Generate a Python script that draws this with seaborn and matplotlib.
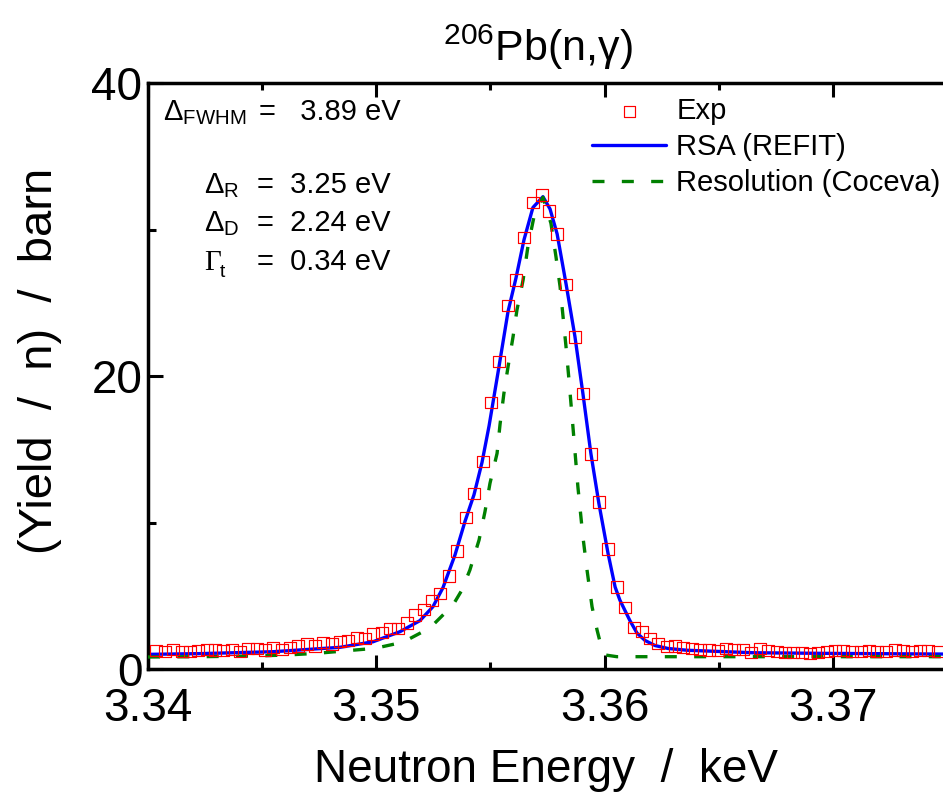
import matplotlib
matplotlib.use("Agg")
import matplotlib.pyplot as plt
import seaborn as sns
from matplotlib.ticker import MultipleLocator

# measured capture yield of 206Pb around the 3.357 keV resonance
exp_energy = [
    3.34035, 3.34074, 3.34110, 3.34149, 3.34184, 3.34219, 3.34258, 3.34293,
    3.34329, 3.34368, 3.34403, 3.34438, 3.34477, 3.34512, 3.34548, 3.34587,
    3.34622, 3.34657, 3.34696, 3.34731, 3.34767, 3.34806, 3.34841, 3.34876,
    3.34915, 3.34950, 3.34986, 3.35025, 3.35060, 3.35095, 3.35134, 3.35170,
    3.35209, 3.35244, 3.35279, 3.35318, 3.35353, 3.35393, 3.35428, 3.35467,
    3.35502, 3.35537, 3.35577, 3.35612, 3.35647, 3.35686, 3.35726, 3.35756,
    3.35792, 3.35831, 3.35870, 3.35905, 3.35940, 3.35975, 3.36015, 3.36054,
    3.36089, 3.36129, 3.36164, 3.36199, 3.36234, 3.36273, 3.36308, 3.36343,
    3.36383, 3.36418, 3.36457, 3.36497, 3.36532, 3.36567, 3.36606, 3.36641,
    3.36681, 3.36716, 3.36755, 3.36790, 3.36825, 3.36865, 3.36900, 3.36935,
    3.36974, 3.37009, 3.37044, 3.37084, 3.37123, 3.37158, 3.37193, 3.37233,
    3.37272, 3.37307, 3.37346, 3.37381, 3.37417, 3.37460,
]
exp_yield = [
    1.25, 1.18, 1.34, 1.18, 1.18, 1.25, 1.34, 1.30,
    1.25, 1.34, 1.18, 1.41, 1.41, 1.30, 1.48, 1.34,
    1.48, 1.57, 1.71, 1.57, 1.80, 1.71, 1.87, 1.93,
    2.16, 2.09, 2.39, 2.48, 2.78, 2.78, 3.14, 3.69,
    4.05, 4.68, 5.17, 6.35, 8.05, 10.33, 11.99, 14.15,
    18.20, 20.98, 24.80, 26.55, 29.47, 31.83, 32.35, 31.26,
    29.69, 26.26, 22.66, 18.79, 14.68, 11.40, 8.19, 5.60,
    4.21, 2.85, 2.54, 2.07, 1.75, 1.52, 1.57, 1.48,
    1.41, 1.34, 1.30, 1.25, 1.41, 1.34, 1.34, 1.13,
    1.41, 1.25, 1.18, 1.11, 1.11, 1.11, 1.07, 1.11,
    1.18, 1.25, 1.25, 1.18, 1.18, 1.25, 1.18, 1.18,
    1.30, 1.25, 1.18, 1.25, 1.25, 1.18,
]

# REFIT resonance shape analysis
rsa_energy = [
    3.34000, 3.34228, 3.34548, 3.34841, 3.34986, 3.35104, 3.35191, 3.35248,
    3.35292, 3.35345, 3.35389, 3.35428, 3.35463, 3.35494, 3.35537, 3.35577,
    3.35612, 3.35647, 3.35686, 3.35730, 3.35761, 3.35792, 3.35831, 3.35870,
    3.35905, 3.35940, 3.35975, 3.36015, 3.36046, 3.36067, 3.36111, 3.36142,
    3.36177, 3.36221, 3.36278, 3.36361, 3.36650, 3.36943, 3.37482,
]
rsa_yield = [
    1.00, 1.05, 1.18, 1.48, 1.86, 2.55, 3.30, 4.25,
    5.55, 7.80, 10.10, 11.90, 14.10, 16.60, 20.60, 24.40,
    26.70, 29.30, 31.50, 32.24, 31.40, 29.70, 26.30, 22.70,
    18.80, 14.70, 11.30, 7.90, 5.60, 4.70, 3.30, 2.45,
    1.95, 1.60, 1.40, 1.28, 1.11, 1.07, 1.02,
]

# resolution function (Coceva)
res_energy = [
    3.34000, 3.34228, 3.34482, 3.34613, 3.34740, 3.34872, 3.34994, 3.35117,
    3.35235, 3.35336, 3.35375, 3.35410, 3.35450, 3.35476, 3.35498, 3.35529,
    3.35542, 3.35559, 3.35577, 3.35599, 3.35616, 3.35643, 3.35664, 3.35691,
    3.35730, 3.35765, 3.35787, 3.35805, 3.35818, 3.35831, 3.35844, 3.35862,
    3.35883, 3.35905, 3.35923, 3.35945, 3.35967, 3.35980, 3.36006, 3.36054,
    3.37482,
]
res_yield = [
    0.82, 0.84, 0.89, 0.96, 1.07, 1.25, 1.41, 1.83,
    2.80, 4.37, 5.39, 6.76, 8.80, 10.74, 12.68, 14.72,
    16.70, 18.82, 20.63, 22.68, 24.50, 26.55, 28.83, 30.90,
    32.20, 30.42, 28.14, 26.10, 24.05, 22.00, 19.73, 16.40,
    12.44, 9.03, 6.76, 4.25, 2.66, 1.86, 0.95, 0.84,
    0.84,
]

sns.set_style("ticks")
plt.rcParams["font.family"] = ["Liberation Sans", "DejaVu Sans"]
plt.rcParams["text.color"] = "black"
plt.rcParams["axes.labelcolor"] = "black"
plt.rcParams["mathtext.fontset"] = "custom"
plt.rcParams["mathtext.rm"] = "Liberation Sans"
plt.rcParams["mathtext.it"] = "Liberation Sans:italic"
plt.rcParams["mathtext.bf"] = "Liberation Sans:bold"

W, H = 943, 793
fig = plt.figure(figsize=(W / 100, H / 100), dpi=100)
ax = fig.add_axes([148 / W, 1 - 669 / H, 1 - 148 / W, (669 - 83) / H])

sns.lineplot(x=rsa_energy, y=rsa_yield, ax=ax, color="#0000ff", lw=2.4,
             estimator=None, sort=False, label="RSA (REFIT)", zorder=2)
sns.lineplot(x=res_energy, y=res_yield, ax=ax, color="#008000", lw=2.4,
             ls=(0, (3.6, 5.2)), estimator=None, sort=False,
             label="Resolution (Coceva)", zorder=3)
sns.scatterplot(x=exp_energy, y=exp_yield, ax=ax, marker="s", s=66,
                facecolor="none", edgecolor="#ff0000", linewidth=0.85,
                label="Exp", zorder=4)

ax.set_xlim(3.34, 3.34 + (W - 148) / 22830)
ax.set_ylim(0, 40)
ax.xaxis.set_major_locator(MultipleLocator(0.01))
ax.xaxis.set_minor_locator(MultipleLocator(0.005))
ax.yaxis.set_major_locator(MultipleLocator(20))
ax.yaxis.set_minor_locator(MultipleLocator(10))
ax.xaxis.set_major_formatter(plt.FuncFormatter(lambda v, p: f"{v:.2f}"))

for side in ["left", "bottom", "top"]:
    ax.spines[side].set_linewidth(2.5)
    ax.spines[side].set_color("black")
ax.spines["right"].set_visible(False)

ax.tick_params(axis="both", which="both", direction="in", width=2.2,
               colors="black", labelsize=33)
ax.tick_params(axis="x", which="both", top=True)
ax.tick_params(axis="x", which="major", length=10, pad=13)
ax.tick_params(axis="x", which="minor", length=5)
ax.tick_params(axis="y", which="major", length=11, pad=4)
ax.tick_params(axis="y", which="minor", length=6)

ax.set_xlabel("Neutron Energy  /  keV", fontsize=33, labelpad=12)
ax.set_ylabel("(Yield  /  n)  /  barn", fontsize=34)
ax.yaxis.set_label_coords(-0.108, 0.525)
ax.set_title(r"$^{206}$Pb(n,γ)", fontsize=31, pad=16, x=0.49)

handles, labels = ax.get_legend_handles_labels()
order = [labels.index(n) for n in ["Exp", "RSA (REFIT)", "Resolution (Coceva)"]]
ax.legend([handles[i] for i in order], [labels[i] for i in order],
          loc="upper left", bbox_to_anchor=(592 / W, 1 - 97 / H),
          bbox_transform=fig.transFigure, frameon=False, fontsize=21,
          borderpad=0, borderaxespad=0, handlelength=2.55,
          handletextpad=0.34, labelspacing=0.27, scatterpoints=1)

# fit parameters
def put(px, py, s, size=21, **kw):
    fig.text(px / W, 1 - py / H, s, fontsize=size, va="baseline", **kw)

put(163, 120, r"$\Delta_{\rm FWHM}$")
put(259, 120, "=   3.89 eV")
put(204, 193, r"$\Delta_{\rm R}$")
put(204, 231, r"$\Delta_{\rm D}$")
put(204, 270, "Γ", family="Liberation Serif")
put(220, 277, "t", size=14)
put(257, 193, "=  3.25 eV")
put(257, 231, "=  2.24 eV")
put(257, 270, "=  0.34 eV")

fig.savefig("out.png", dpi=100, facecolor="white")
